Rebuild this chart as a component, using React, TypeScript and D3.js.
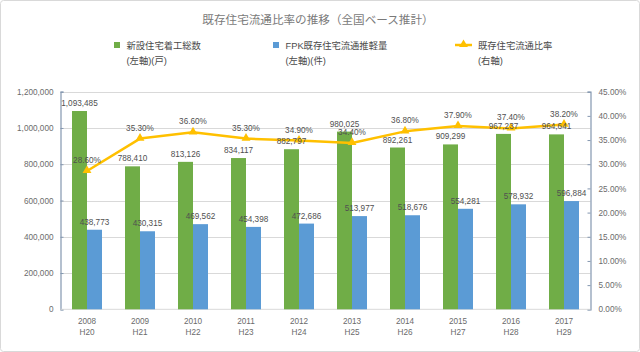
import React, { useEffect, useRef } from 'react';
import * as d3 from 'd3';

const years = ['2008', '2009', '2010', '2011', '2012', '2013', '2014', '2015', '2016', '2017'];
const eras = ['H20', 'H21', 'H22', 'H23', 'H24', 'H25', 'H26', 'H27', 'H28', 'H29'];
const housingStarts = [1093485, 788410, 813126, 834117, 882797, 980025, 892261, 909299, 967237, 964641];
const existingSales = [438773, 430315, 469562, 454398, 472686, 513977, 518676, 554281, 578932, 596884];
const ratio = [28.6, 35.3, 36.6, 35.3, 34.9, 34.4, 36.8, 37.9, 37.4, 38.2];
const leftTicks = [0, 200000, 400000, 600000, 800000, 1000000, 1200000];
const rightTicks = [0, 5, 10, 15, 20, 25, 30, 35, 40, 45];

const W = 640;
const H = 352;
const GREEN = '#70ad47';
const BLUE = '#5b9bd5';
const GOLD = '#ffc000';
const FONT = "'Liberation Sans', 'Noto Sans CJK JP', sans-serif";
const CJK = "'Noto Sans CJK JP', sans-serif";

export default function App() {
  const svgRef = useRef<SVGSVGElement>(null);

  useEffect(() => {
    if (!svgRef.current) return;
    const svg = d3.select(svgRef.current);
    svg.selectAll('*').remove();

    const left = 60.5;
    const right = 590.5;
    const top = 91.7;
    const bottom = 309.3;

    svg.append('rect')
      .attr('x', 0.5).attr('y', 0.5)
      .attr('width', W - 1).attr('height', H - 1)
      .attr('rx', 3)
      .attr('fill', '#fff')
      .attr('stroke', '#d9d9d9');

    const x = d3.scaleBand<string>().domain(years).range([left, right]);
    const y = d3.scaleLinear().domain([0, 1200000]).range([bottom, top]);
    const yR = d3.scaleLinear().domain([0, 45]).range([bottom, top]);
    const barW = 15;
    const cx = (i: number) => (x(years[i]) || 0) + x.bandwidth() / 2;

    // title
    svg.append('text')
      .attr('x', 318).attr('y', 24)
      .attr('text-anchor', 'middle')
      .style('font-family', CJK)
      .style('font-size', '11.6px')
      .style('fill', '#7a7a7a')
      .text('既存住宅流通比率の推移（全国ベース推計）');

    // legend
    const legendItems = [
      { x: 114, kind: 'rect', color: GREEN, l1: '新設住宅着工総数', l2: '(左軸)(戸)' },
      { x: 273, kind: 'rect', color: BLUE, l1: 'FPK既存住宅流通推軽量', l2: '(左軸)(件)' },
      { x: 455, kind: 'line', color: GOLD, l1: '既存住宅流通比率', l2: '(右軸)' },
    ];
    legendItems.forEach(item => {
      const lg = svg.append('g');
      let tx = item.x + 12.5;
      if (item.kind === 'rect') {
        lg.append('rect').attr('x', item.x).attr('y', 42).attr('width', 6).attr('height', 6).attr('fill', item.color);
      } else {
        lg.append('line').attr('x1', item.x).attr('x2', item.x + 17).attr('y1', 45).attr('y2', 45)
          .attr('stroke', item.color).attr('stroke-width', 2.5);
        lg.append('path').attr('d', d3.symbol(d3.symbolTriangle, 34)())
          .attr('transform', `translate(${item.x + 8.5},44.5)`).attr('fill', item.color);
        tx = item.x + 23;
      }
      lg.append('text').attr('x', tx).attr('y', 48.5)
        .style('font-family', FONT).style('font-size', '9.3px').style('fill', '#4a4a4a').text(item.l1);
      lg.append('text').attr('x', tx).attr('y', 63.5)
        .style('font-family', FONT).style('font-size', '9.3px').style('fill', '#4a4a4a').text(item.l2);
    });

    // gridlines
    svg.append('g').selectAll('line').data(leftTicks.slice(1)).enter().append('line')
      .attr('x1', left).attr('x2', right)
      .attr('y1', d => Math.round(y(d)) + 0.5).attr('y2', d => Math.round(y(d)) + 0.5)
      .attr('stroke', '#d9d9d9').attr('stroke-width', 1);

    // left axis
    const gl = svg.append('g').attr('transform', `translate(${left},0)`)
      .call(d3.axisLeft(y).tickValues(leftTicks).tickSize(-3).tickPadding(7).tickFormat(d3.format(',')));
    gl.selectAll('text').style('font-family', FONT).style('font-size', '8.2px').style('fill', '#6b6b6b');

    // right axis
    const gr = svg.append('g').attr('transform', `translate(${right},0)`)
      .call(d3.axisRight(yR).tickValues(rightTicks).tickSize(-3).tickPadding(8).tickFormat(d => `${(+d).toFixed(2)}%`));
    gr.selectAll('text').style('font-family', FONT).style('font-size', '8.2px').style('fill', '#6b6b6b');

    svg.selectAll('.domain').attr('stroke', '#8497b0').attr('stroke-width', 1.2);
    svg.selectAll('.tick line').attr('stroke', '#8497b0');

    // bottom baseline
    svg.append('line').attr('x1', left).attr('x2', right).attr('y1', bottom).attr('y2', bottom)
      .attr('stroke', '#d9d9d9');

    // x labels
    const xl = svg.append('g');
    years.forEach((yr, i) => {
      xl.append('text').attr('x', cx(i)).attr('y', 323.5).attr('text-anchor', 'middle')
        .style('font-family', FONT).style('font-size', '8.2px').style('fill', '#6b6b6b').text(yr);
      xl.append('text').attr('x', cx(i)).attr('y', 334.5).attr('text-anchor', 'middle')
        .style('font-family', FONT).style('font-size', '8.2px').style('fill', '#6b6b6b').text(eras[i]);
    });

    // bars
    svg.append('g').selectAll('rect').data(housingStarts).enter().append('rect')
      .attr('x', (d, i) => cx(i) - barW)
      .attr('y', d => y(d))
      .attr('width', barW)
      .attr('height', d => bottom - y(d))
      .attr('fill', GREEN);

    svg.append('g').selectAll('rect').data(existingSales).enter().append('rect')
      .attr('x', (d, i) => cx(i))
      .attr('y', d => y(d))
      .attr('width', barW)
      .attr('height', d => bottom - y(d))
      .attr('fill', BLUE);

    // line
    const line = d3.line<number>().x((d, i) => cx(i)).y(d => yR(d));
    svg.append('path').datum(ratio).attr('d', line)
      .attr('fill', 'none').attr('stroke', GOLD).attr('stroke-width', 2.5).attr('stroke-linejoin', 'round');

    svg.append('g').selectAll('path').data(ratio).enter().append('path')
      .attr('d', d3.symbol(d3.symbolTriangle, 34)())
      .attr('transform', (d, i) => `translate(${cx(i)},${yR(d) - 0.5})`)
      .attr('fill', GOLD);

    // data labels
    const fmt = d3.format(',');
    const labels = svg.append('g')
      .style('font-family', FONT).style('font-size', '8.2px').style('fill', '#505050')
      .attr('text-anchor', 'middle');
    housingStarts.forEach((d, i) => {
      labels.append('text').attr('x', cx(i) - barW / 2).attr('y', y(d) - 5).text(fmt(d));
    });
    existingSales.forEach((d, i) => {
      labels.append('text').attr('x', cx(i) + barW / 2).attr('y', y(d) - 5).text(fmt(d));
    });
    ratio.forEach((d, i) => {
      labels.append('text').attr('x', cx(i)).attr('y', yR(d) - 8).text(`${d.toFixed(2)}%`);
    });
  }, []);

  return (
    <svg
      ref={svgRef}
      width={W}
      height={H}
      viewBox={`0 0 ${W} ${H}`}
      style={{ position: 'absolute', left: 0, top: 0, background: '#fff' }}
    />
  );
}
